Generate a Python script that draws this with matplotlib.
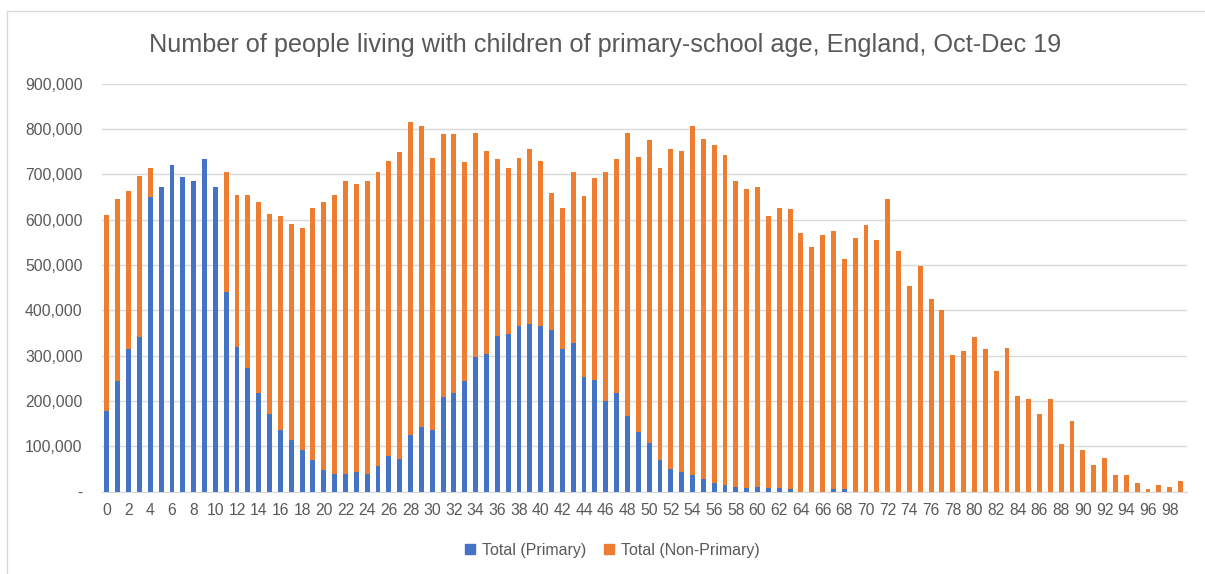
import numpy as np
import matplotlib
matplotlib.use("Agg")
import matplotlib.pyplot as plt
from matplotlib.lines import Line2D
from matplotlib.ticker import FuncFormatter

# ages 0..99
ages = list(range(100))

primary = [
    179, 243, 315, 340, 650, 672, 721, 694, 685, 733,
    672, 440, 320, 272, 217, 172, 137, 115, 92, 69,
    48, 40, 40, 44, 40, 56, 79, 72, 124, 143,
    137, 208, 217, 243, 298, 304, 343, 347, 366, 369,
    366, 356, 315, 327, 253, 247, 201, 217, 166, 131,
    108, 69, 50, 44, 37, 27, 20, 15, 11, 8,
    11, 8, 8, 5, 0, 0, 0, 5, 5, 0,
    0, 0, 0, 0, 0, 0, 0, 0, 0, 0,
    0, 0, 0, 0, 0, 0, 0, 0, 0, 0,
    0, 0, 0, 0, 0, 0, 0, 0, 0, 0,
]

total = [
    610, 646, 662, 697, 713, 672, 721, 694, 685, 733,
    672, 704, 655, 655, 639, 613, 607, 591, 581, 626,
    639, 655, 685, 678, 685, 704, 729, 749, 816, 807,
    736, 788, 788, 726, 791, 752, 733, 713, 736, 755,
    729, 659, 626, 704, 653, 691, 704, 733, 791, 739,
    775, 713, 755, 752, 807, 778, 764, 742, 685, 668,
    672, 607, 626, 623, 571, 540, 565, 575, 514, 559,
    588, 556, 646, 530, 453, 498, 424, 401, 301, 311,
    340, 314, 266, 317, 211, 204, 172, 204, 105, 156,
    91, 59, 75, 37, 37, 20, 5, 14, 11, 24,
]

primary = np.array(primary) * 1000
non_primary = np.array(total) * 1000 - primary

blue = "#4472C4"
orange = "#ED7D31"
grey = "#595959"

fig = plt.figure(figsize=(12.05, 5.74), dpi=100)
ax = fig.add_axes([102 / 1205, 1 - 491.7 / 574, (1187 - 102) / 1205, (491.7 - 83.5) / 574])

ax.bar(ages, primary, width=0.45, color=blue, zorder=3)
ax.bar(ages, non_primary, width=0.45, bottom=primary, color=orange, zorder=3)

ax.set_xlim(-0.45, 99.6)
ax.set_ylim(0, 900000)
ax.set_yticks(np.arange(0, 900001, 100000))
ax.yaxis.set_major_formatter(FuncFormatter(lambda v, p: "-" if v == 0 else f"{int(v):,}"))
ax.set_xticks(ages[::2])
ax.tick_params(axis="both", length=0, colors=grey, labelsize=11.3)
ax.tick_params(axis="y", pad=14)
ax.tick_params(axis="x", pad=8)
for lab in ax.get_yticklabels() + ax.get_xticklabels():
    lab.set_fontfamily("Liberation Sans")

ax.grid(axis="y", color="#d9d9d9", linewidth=1, zorder=0)
for s in ["top", "right", "left"]:
    ax.spines[s].set_visible(False)
ax.spines["bottom"].set_color("#d9d9d9")

fig.text(0.502, 1 - 45 / 574, "Number of people living with children of primary-school age, England, Oct-Dec 19",
         ha="center", va="center", fontsize=18.2, color=grey, family="Liberation Sans")

handles = [
    Line2D([], [], marker="s", linestyle="", color=blue, markersize=7),
    Line2D([], [], marker="s", linestyle="", color=orange, markersize=7),
]
leg = fig.legend(handles, ["Total (Primary)", "Total (Non-Primary)"], loc="center",
                 bbox_to_anchor=(0.507, 1 - 550 / 574), ncol=2, frameon=False,
                 handlelength=1.0, handletextpad=0.25, columnspacing=0.9,
                 prop={"family": "Liberation Sans", "size": 11.5})
for t in leg.get_texts():
    t.set_color(grey)

# outer frame (only top and left edges visible in the crop)
fig.add_artist(Line2D([7.5 / 1205, 7.5 / 1205], [0, 1 - 11 / 574], color="#d9d9d9", linewidth=1, transform=fig.transFigure))
fig.add_artist(Line2D([7.5 / 1205, 1], [1 - 11 / 574, 1 - 11 / 574], color="#d9d9d9", linewidth=1, transform=fig.transFigure))

fig.savefig("out.png", dpi=100)
